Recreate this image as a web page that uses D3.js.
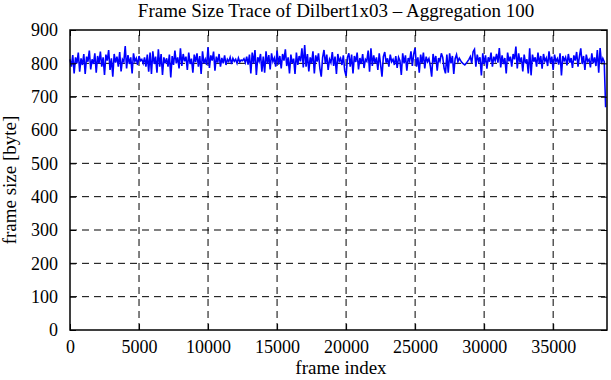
<!DOCTYPE html>
<html><head><meta charset="utf-8">
<script src="https://cdn.jsdelivr.net/npm/d3@7"></script>
<style>body{margin:0;background:#fff}svg{display:block}text{font-family:"Liberation Serif","DejaVu Serif",serif;fill:#000}</style>
</head><body><svg id="c" width="611" height="380"></svg>
<script>
const title = "Frame Size Trace of Dilbert1x03 \u2013 Aggregation 100";
const xLabel = "frame index";
const yLabel = "frame size [byte]";
const xTicks = [0,5000,10000,15000,20000,25000,30000,35000];
const yTicks = [0,100,200,300,400,500,600,700,800,900];
const aggregation = 100;
const frameSizes = [
812,790,825,770,818,800,832,775,815,795,
828,768,820,805,838,782,812,798,830,772,
822,800,835,790,818,765,826,808,840,780,
815,760,828,802,820,790,834,776,812,805,
852,785,825,798,818,770,830,806,815,795,
822,808,812,800,818,790,826,775,832,768,
836,798,820,772,842,790,828,765,818,800,
815,790,826,758,822,795,838,800,818,785,
845,792,828,806,820,780,832,798,814,772,
826,804,830,790,822,768,836,800,812,795,
848,786,824,808,835,778,820,802,828,790,
816,800,824,795,812,805,818,798,815,806,
812,800,816,804,810,808,814,802,820,796,
826,770,832,800,840,765,818,806,828,775,
820,772,836,798,825,782,830,805,816,790,
838,796,822,785,828,808,842,792,818,770,
826,800,814,768,832,795,822,806,845,788,
855,790,828,776,818,800,836,770,824,805,
830,785,760,818,840,798,826,780,812,802,
834,792,820,768,828,806,815,795,824,778,
762,818,830,790,826,770,822,804,832,782,
816,798,828,786,812,806,838,775,845,792,
824,800,818,780,830,796,760,820,834,802,
815,790,826,805,812,795,822,786,818,808,
765,830,800,824,778,816,806,836,792,828,
846,790,818,772,826,800,832,785,820,805,
814,792,760,828,802,822,778,816,806,830,
818,785,770,826,772,830,800,822,768,814,
826,805,815,808,802,798,795,800,806,812,
820,800,835,842,790,826,806,818,764,830,
798,824,784,818,805,832,790,820,808,828,
802,846,788,824,798,816,770,832,806,820,
790,828,812,850,785,830,802,818,776,826,
800,812,770,845,764,826,805,818,790,832,
798,822,784,828,806,816,792,836,800,820,
780,826,805,814,796,830,764,822,808,818,
794,828,802,816,786,824,808,834,790,820,
845,798,822,780,826,806,812,788,830,800,
818,792,840,772,846,800,815,805,668
];

const svg = d3.select("#c");
const m = {l:70, r:4, t:30, b:50};
const W = 611, H = 380;
const x = d3.scaleLinear().domain([0, 38900]).range([m.l, W - m.r]);
const y = d3.scaleLinear().domain([0, 900]).range([H - m.b, m.t]);

// grid
const g = svg.append("g");
g.selectAll("line.gx").data(xTicks.filter(d => d > 0)).join("line")
  .attr("x1", d => x(d)).attr("x2", d => x(d)).attr("y1", y(0)).attr("y2", y(900))
  .attr("stroke", "#000").attr("stroke-dasharray", "7,5").attr("stroke-width", 1);
g.selectAll("line.gy").data(yTicks.filter(d => d > 0 && d < 900)).join("line")
  .attr("x1", x.range()[0]).attr("x2", x.range()[1]).attr("y1", d => y(d)).attr("y2", d => y(d))
  .attr("stroke", "#000").attr("stroke-dasharray", "7,5").attr("stroke-width", 1);

// line
const line = d3.line().x((d, i) => x(i * aggregation)).y(d => y(d));
svg.append("path").datum(frameSizes).attr("d", line)
  .attr("fill", "none").attr("stroke", "#0000ff").attr("stroke-width", 1.6);

// axes (inner ticks)
const ax = svg.append("g").attr("transform", `translate(0,${y(0)})`)
  .call(d3.axisBottom(x).tickValues(xTicks).tickSize(-6).tickPadding(10).tickFormat(d3.format("d")));
const axT = svg.append("g").attr("transform", `translate(0,${y(900)})`)
  .call(d3.axisTop(x).tickValues(xTicks).tickSize(-6).tickFormat(""));
const ay = svg.append("g").attr("transform", `translate(${x.range()[0]},0)`)
  .call(d3.axisLeft(y).tickValues(yTicks).tickSize(-6).tickPadding(12));
const ayR = svg.append("g").attr("transform", `translate(${x.range()[1]},0)`)
  .call(d3.axisRight(y).tickValues(yTicks).tickSize(-6).tickFormat(""));
[ax, axT, ay, ayR].forEach(a => {
  a.select(".domain").remove();
  a.selectAll("line").attr("stroke", "#000");
  a.selectAll("text").style("font-family", '"Liberation Serif", serif').style("font-size", "18px").attr("fill", "#000");
});
svg.append("rect").attr("x", x.range()[0]).attr("y", y(900))
  .attr("width", x.range()[1] - x.range()[0]).attr("height", y(0) - y(900))
  .attr("fill", "none").attr("stroke", "#000").attr("stroke-width", 1.5);

svg.append("text").attr("x", 336).attr("y", 17).attr("text-anchor", "middle")
  .style("font-size", "19px").text(title);
svg.append("text").attr("x", 341).attr("y", 374).attr("text-anchor", "middle")
  .style("font-size", "19px").text(xLabel);
svg.append("text").attr("transform", `translate(16,${(y(0)+y(900))/2}) rotate(-90)`)
  .attr("text-anchor", "middle").style("font-size", "19px").text(yLabel);
</script></body></html>
